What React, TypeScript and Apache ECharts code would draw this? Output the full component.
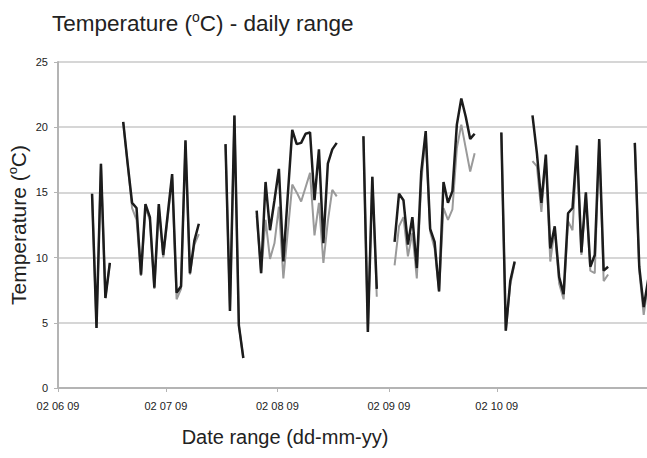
import React, { useEffect, useRef } from "react";
import * as echarts from "echarts";

// Month markers on the date axis, counted in days from 2 June 2009.
const monthTickDays = [0, 30, 61, 92, 122];
const monthTickLabels = ["02 06 09", "02 07 09", "02 08 09", "02 09 09", "02 10 09"];

// Logger readings: the first one on day 9.47, then one every 1.237 days.
const FIRST_READING_DAY = 9.47;
const READING_STEP_DAYS = 1.237;

// Upper trace (black), °C; null where no reading was logged.
const upperTemp: (number | null)[] = [
  14.9, 4.6, 17.2, 6.9, 9.6,
  null, null,
  20.4, 17.2, 14.2, 13.8, 8.7, 14.1, 13.1, 7.7, 14.1, 10.2, 13.3, 16.4, 7.3, 7.8, 19.0, 8.8, 11.3, 12.6,
  null, null, null, null, null,
  18.7, 5.9, 20.9, 4.8, 2.3,
  null, null,
  13.6, 8.8, 15.8, 12.1, 14.4, 16.8, 9.7, 14.8, 19.8, 18.7, 18.8, 19.5, 19.6, 14.4, 18.3, 11.1, 17.2, 18.3, 18.8,
  null, null, null, null, null,
  19.3, 4.3, 16.2, 7.6,
  null, null, null,
  11.2, 14.9, 14.4, 11.0, 13.1, 9.2, 16.6, 19.7, 12.2, 11.2, 7.4, 15.8, 14.2, 15.1, 20.2, 22.2, 20.8, 19.1, 19.5,
  null, null, null, null, null,
  19.6, 4.4, 8.2, 9.7,
  null, null, null,
  20.9, 18.0, 14.2, 17.9, 10.7, 12.4, 8.5, 7.2, 13.4, 13.8, 18.6, 10.4, 15.0, 9.3, 10.2, 19.1, 9.0, 9.3,
  null, null, null, null, null,
  18.8, 9.3, 6.2, 8.3,
];

// Lower trace (grey), °C.
const lowerTemp: (number | null)[] = [
  14.9, 4.6, 17.2, 6.9, 9.6,
  null, null,
  20.4, 17.2, 13.8, 12.9, 8.6, 13.8, 12.9, 7.6, 13.9, 10.0, 13.0, 16.2, 6.8, 7.6, 18.9, 8.7, 11.0, 11.8,
  null, null, null, null, null,
  18.7, 5.9, 20.9, 4.8, 2.3,
  null, null,
  13.2, 8.8, 12.9, 9.9, 11.1, 13.9, 8.4, 12.0, 15.6, 15.0, 14.3, 15.4, 16.5, 11.7, 14.2, 9.6, 12.8, 15.2, 14.7,
  null, null, null, null, null,
  19.3, 4.3, 16.2, 7.0,
  null, null, null,
  9.4, 12.4, 13.1, 10.1, 11.9, 8.4, 15.8, 19.4, 12.0, 10.7, 7.4, 13.8, 12.9, 13.7, 18.4, 20.2, 18.4, 16.6, 18.0,
  null, null, null, null, null,
  19.6, 4.4, 7.9, 9.6,
  null, null, null,
  17.4, 17.0, 13.5, 17.6, 9.7, 12.2, 8.0, 6.8, 12.8, 12.1, 18.4, 10.2, 14.8, 9.0, 8.8, 18.9, 8.2, 8.7,
  null, null, null, null, null,
  18.8, 9.0, 5.6, 8.0,
];

const FONT = '"Liberation Sans", Arial, sans-serif';

function toPoints(values: (number | null)[]) {
  return values.map((v, i) => [
    FIRST_READING_DAY + i * READING_STEP_DAYS,
    v === null ? "-" : v,
  ]);
}

export default function App() {
  const ref = useRef<HTMLDivElement>(null);

  useEffect(() => {
    const chart = echarts.init(ref.current!, null, { renderer: "svg" });
    chart.setOption({
      animation: false,
      backgroundColor: "#ffffff",
      title: {
        text: "Temperature ({sup|o}C) - daily range",
        left: 47,
        top: 5,
        textStyle: {
          fontFamily: FONT,
          fontSize: 22.5,
          fontWeight: "normal",
          color: "#222222",
          lineHeight: 27,
          rich: {
            sup: { fontFamily: FONT, fontSize: 14, color: "#222222", verticalAlign: "top", lineHeight: 14 },
          },
        },
      },
      grid: { left: 58, right: -8, top: 62, bottom: 70, containLabel: false, outerBoundsMode: "none" },
      xAxis: {
        type: "value",
        min: 0,
        max: 166,
        splitLine: { show: false },
        axisLine: { show: true, lineStyle: { color: "#b4b4b4", width: 2 } },
        axisTick: {
          show: true,
          customValues: monthTickDays,
          length: 4,
          lineStyle: { color: "#b4b4b4", width: 1 },
        },
        axisLabel: {
          customValues: monthTickDays,
          formatter: (val: number) => {
            const k = monthTickDays.indexOf(Math.round(val));
            return k >= 0 ? monthTickLabels[k] : "";
          },
          fontFamily: FONT,
          fontSize: 11,
          color: "#222222",
          margin: 12,
        },
      },
      yAxis: {
        type: "value",
        min: 0,
        max: 25,
        interval: 5,
        name: "Temperature ({sup|o}C)",
        nameLocation: "middle",
        nameGap: 27,
        nameMoveOverlap: false,
        nameTextStyle: {
          fontFamily: FONT,
          fontSize: 21,
          color: "#222222",
          lineHeight: 25,
          rich: {
            sup: { fontFamily: FONT, fontSize: 13, color: "#222222", verticalAlign: "top", lineHeight: 13 },
          },
        },
        axisLine: { show: true, lineStyle: { color: "#b4b4b4", width: 2 } },
        axisTick: { show: true, length: 4, lineStyle: { color: "#b4b4b4" } },
        splitLine: { show: true, lineStyle: { color: "#c8c8c8", width: 1.5 } },
        axisLabel: { fontFamily: FONT, fontSize: 11, color: "#222222", margin: 10 },
      },
      graphic: [
        {
          type: "text",
          x: 285,
          y: 437,
          style: {
            text: "Date range (dd-mm-yy)",
            fontFamily: FONT,
            fontSize: 20,
            fill: "#222222",
            align: "center",
            verticalAlign: "middle",
          },
        },
      ],
      series: [
        {
          name: "Lower",
          type: "line",
          data: toPoints(lowerTemp),
          showSymbol: false,
          connectNulls: false,
          lineStyle: { color: "#9a9a9a", width: 2 },
          z: 2,
        },
        {
          name: "Upper",
          type: "line",
          data: toPoints(upperTemp),
          showSymbol: false,
          connectNulls: false,
          lineStyle: { color: "#1c1c1c", width: 2.5 },
          z: 3,
        },
      ],
    });
    return () => chart.dispose();
  }, []);

  return (
    <div
      ref={ref}
      style={{ position: "fixed", left: 0, top: 0, width: 647, height: 458, background: "#ffffff" }}
    />
  );
}
